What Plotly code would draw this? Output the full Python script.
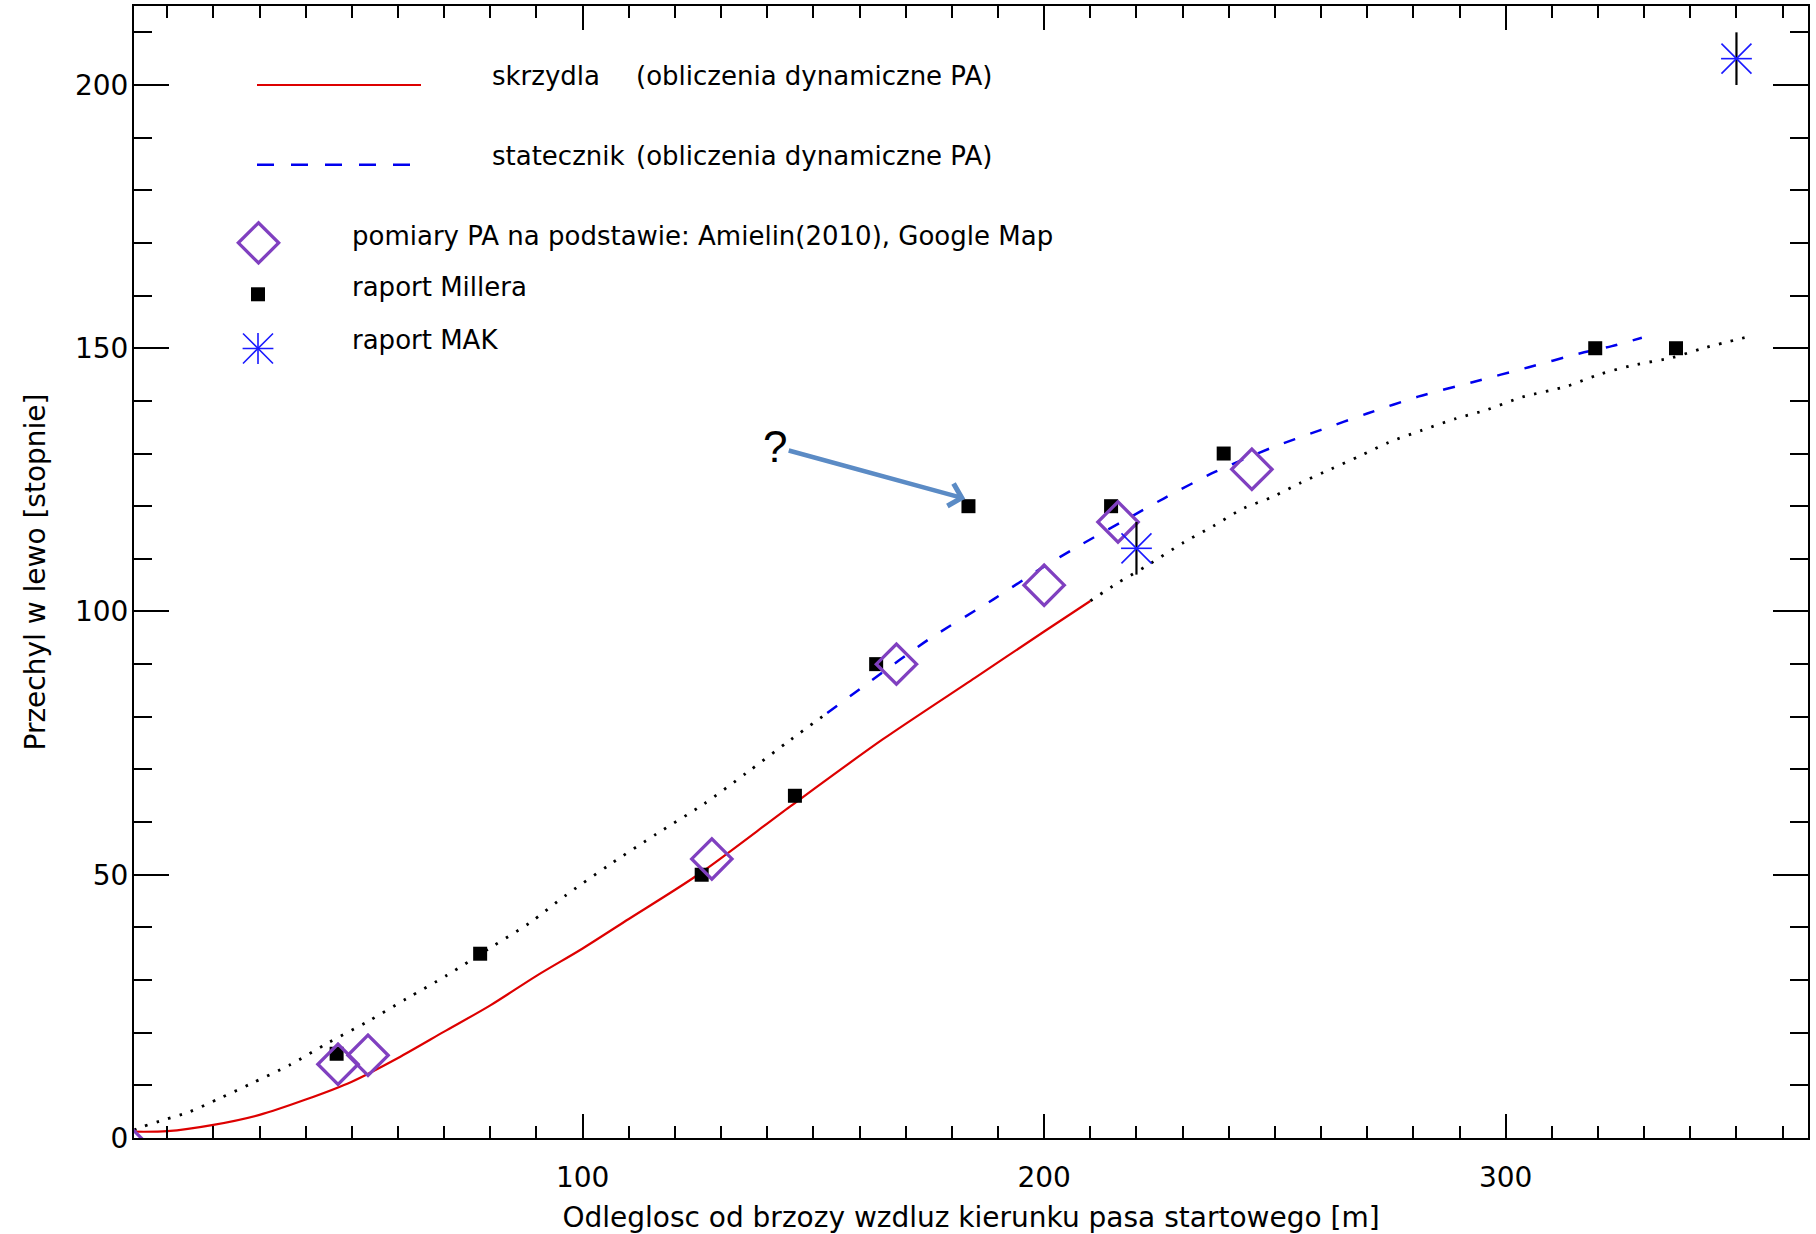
import plotly.graph_objects as go

# ---------------- data ----------------
# wing: dynamic calculation (solid) and its continuation (dotted)
wing_x = [2.8, 10, 20, 30, 40, 50, 60, 70, 80, 90, 100, 110, 125, 145, 165, 185, 200, 210]
wing_y = [1.2, 1.3, 2.5, 4.4, 7.3, 10.7, 15.2, 20.2, 25.2, 30.8, 36.0, 41.6, 50.0, 63.0, 75.7, 87.4, 96.2, 102.0]
wing_ext_x = [210, 215.9, 222.1, 230.2, 236.6, 243.2, 249.3, 255.5, 262, 268.8, 274.6, 281.8,
              289.1, 295.9, 303.5, 313.3, 320.5, 328.3, 336, 343.2, 353.1]
wing_ext_y = [102.0, 105.4, 108.6, 113.1, 116.2, 119.6, 121.7, 124.4, 127.0, 129.7, 132.1, 134.4,
              136.6, 138.3, 140.7, 142.8, 145.1, 146.9, 148.2, 150.1, 152.3]

# stabilizer: dynamic calculation (dashed) and its earlier part (dotted)
stab_x = [153, 162, 175, 189, 199, 208, 217, 226, 237, 249, 260, 270, 281, 293, 305, 316, 323, 329.5]
stab_y = [80.7, 86.5, 94.7, 102.3, 108.0, 112.7, 117.1, 121.5, 126.5, 131.0, 134.5, 137.6, 140.8,
          143.6, 146.4, 149.0, 150.4, 152.0]
stab_ext_x = [2.8, 4.8, 9.5, 14.6, 21.5, 28.1, 36.6, 44.7, 53.4, 61.9, 70.6, 80.3, 88.6, 96.2,
              106, 116.1, 126.2, 135.6, 145, 153]
stab_ext_y = [1.5, 2.2, 3.5, 4.9, 7.6, 10.3, 13.9, 18.0, 22.1, 26.5, 30.9, 36.3, 40.9, 46.0,
              52.0, 57.8, 63.4, 69.4, 75.6, 80.7]

# PA measurements (Amielin 2010, Google Map)
pa_x = [0, 47, 53.5, 128, 168, 200, 216, 245]
pa_y = [0, 14.0, 15.7, 53, 90, 105, 117, 127]

# Miller report
miller_x = [46.7, 77.8, 125.8, 146, 163.6, 183.6, 214.5, 238.9, 319.4, 336.9]
miller_y = [16, 35, 50, 65, 90, 120, 120, 130, 150, 150]

# MAK report
mak_x = [220, 350]
mak_y = [112, 205]
mak_err = [5, 5]

# questioned Miller point
question_x = 183.6
question_y = 120

X_RANGE = [2.8, 365.5]
Y_RANGE = [0, 215]

legend_labels = [
    ("skrzydla", "(obliczenia dynamiczne PA)"),
    ("statecznik", "(obliczenia dynamiczne PA)"),
    "pomiary PA na podstawie: Amielin(2010), Google Map",
    "raport Millera",
    "raport MAK",
]

# ---------------- styles / geometry ----------------
W, H = 1816, 1234
PL, PR, PT, PB = 134, 1808, 4, 1140
FONT = "DejaVu Sans"
RED = "#dd0000"
BLUE = "#0000ee"
STAR_BLUE = "#1a1aff"
PURPLE = "#8040c0"
DOTTED = dict(color="black", width=2.8, dash="2.5px,9.5px")


def fx(px):
    return (px - PL) / (PR - PL)


def fy(py):
    return (PB - py) / (PB - PT)


fig = go.Figure()

# curves
fig.add_trace(go.Scatter(x=stab_ext_x, y=stab_ext_y, mode="lines", line_shape="spline",
                         line=dict(smoothing=0.8, **DOTTED)))
fig.add_trace(go.Scatter(x=wing_ext_x, y=wing_ext_y, mode="lines", line_shape="spline",
                         line=dict(smoothing=0.8, **DOTTED)))
fig.add_trace(go.Scatter(x=wing_x, y=wing_y, mode="lines", line_shape="spline",
                         line=dict(color=RED, width=2.2, smoothing=0.8)))
fig.add_trace(go.Scatter(x=stab_x, y=stab_y, mode="lines", line_shape="spline",
                         line=dict(color=BLUE, width=2.5, dash="12px,16px", smoothing=0.8)))

# Miller squares
fig.add_trace(go.Scatter(x=miller_x, y=miller_y, mode="markers",
                         marker=dict(symbol="square", size=14, color="black")))

# PA diamonds
fig.add_trace(go.Scatter(x=pa_x, y=pa_y, mode="markers",
                         marker=dict(symbol="diamond-open", size=31, color=PURPLE,
                                     line=dict(color=PURPLE, width=3.3))))

# MAK asterisks with black vertical bars
fig.add_trace(go.Scatter(x=mak_x, y=mak_y, mode="markers",
                         error_y=dict(type="data", array=mak_err, color="black",
                                      thickness=2.2, width=0),
                         marker=dict(symbol="x-thin-open", size=30, color=STAR_BLUE,
                                     line=dict(color=STAR_BLUE, width=1.6))))
fig.add_trace(go.Scatter(x=mak_x, y=mak_y, mode="markers",
                         marker=dict(symbol="line-ew-open", size=22, color=STAR_BLUE,
                                     line=dict(color=STAR_BLUE, width=1.6))))

# ---------------- legend drawn inside the frame ----------------
leg = dict(xaxis="x2", yaxis="y2", hoverinfo="skip")
fig.add_trace(go.Scatter(x=[fx(257), fx(421)], y=[fy(83.3)] * 2, mode="lines",
                         line=dict(color=RED, width=2.2), **leg))
fig.add_trace(go.Scatter(x=[fx(257), fx(410)], y=[fy(163.3)] * 2, mode="lines",
                         line=dict(color=BLUE, width=2.5, dash="17px,17px"), **leg))
fig.add_trace(go.Scatter(x=[fx(258.5)], y=[fy(241.7)], mode="markers",
                         marker=dict(symbol="diamond-open", size=31, color=PURPLE,
                                     line=dict(color=PURPLE, width=3.3)), **leg))
fig.add_trace(go.Scatter(x=[fx(258)], y=[fy(293.3)], mode="markers",
                         marker=dict(symbol="square", size=14, color="black"), **leg))
fig.add_trace(go.Scatter(x=[fx(258)], y=[fy(347.7)], mode="markers",
                         marker=dict(symbol="x-thin-open", size=30, color=STAR_BLUE,
                                     line=dict(color=STAR_BLUE, width=1.6)), **leg))
fig.add_trace(go.Scatter(x=[fx(258)], y=[fy(347.7)], mode="markers",
                         marker=dict(symbol="cross-thin-open", size=22, color=STAR_BLUE,
                                     line=dict(color=STAR_BLUE, width=1.6)), **leg))

annotations = []
leg_font = dict(family=FONT, size=26, color="black")
for (word, rest), yc in zip(legend_labels[:2], [74.5, 154.5]):
    annotations.append(dict(xref="paper", yref="paper", x=fx(490), y=fy(yc), text=word,
                            showarrow=False, xanchor="left", yanchor="middle", font=leg_font))
    annotations.append(dict(xref="paper", yref="paper", x=fx(634), y=fy(yc), text=rest,
                            showarrow=False, xanchor="left", yanchor="middle", font=leg_font))
for label, yc in zip(legend_labels[2:], [234.5, 286, 339]):
    annotations.append(dict(xref="paper", yref="paper", x=fx(350), y=fy(yc), text=label,
                            showarrow=False, xanchor="left", yanchor="middle", font=leg_font))

# question mark with arrow pointing at the doubtful Miller point
annotations.append(dict(x=question_x - 0.7, y=question_y + 1.4, xref="x", yref="y",
                        text="?", showarrow=True, ax=-190, ay=-52,
                        arrowhead=4, arrowsize=1.0, arrowwidth=4.5, arrowcolor="#5b8bc5",
                        font=dict(family="Liberation Sans", size=44, color="black")))

axis_common = dict(showline=True, linecolor="black", linewidth=2, mirror="ticks",
                   ticks="inside", tickcolor="black", tickwidth=2,
                   showgrid=False, zeroline=False,
                   tickfont=dict(family=FONT, size=28, color="black"))

fig.update_layout(
    width=W, height=H,
    margin=dict(l=PL, r=W - PR, t=PT, b=H - PB, pad=0),
    paper_bgcolor="white", plot_bgcolor="white",
    showlegend=False,
    font=dict(family=FONT, color="black"),
    annotations=annotations,
    xaxis=dict(range=X_RANGE, dtick=100, tick0=0, ticklen=24,
               minor=dict(ticks="inside", dtick=10, tick0=0, ticklen=12,
                          tickwidth=1.8, tickcolor="black"),
               ticklabelstandoff=13,
               title=dict(text="Odleglosc od brzozy wzdluz kierunku pasa startowego [m]",
                          font=dict(family=FONT, size=28, color="black"), standoff=17),
               **axis_common),
    yaxis=dict(range=Y_RANGE, dtick=50, tick0=0, ticklen=35,
               minor=dict(ticks="inside", dtick=10, tick0=0, ticklen=18,
                          tickwidth=1.8, tickcolor="black"),
               ticklabelstandoff=-2,
               title=dict(text="Przechyl w lewo [stopnie]",
                          font=dict(family=FONT, size=28, color="black"), standoff=21),
               **axis_common),
    xaxis2=dict(range=[0, 1], overlaying="x", anchor="y2", visible=False),
    yaxis2=dict(range=[0, 1], overlaying="y", anchor="x2", visible=False),
)

fig.write_html("out.html")
